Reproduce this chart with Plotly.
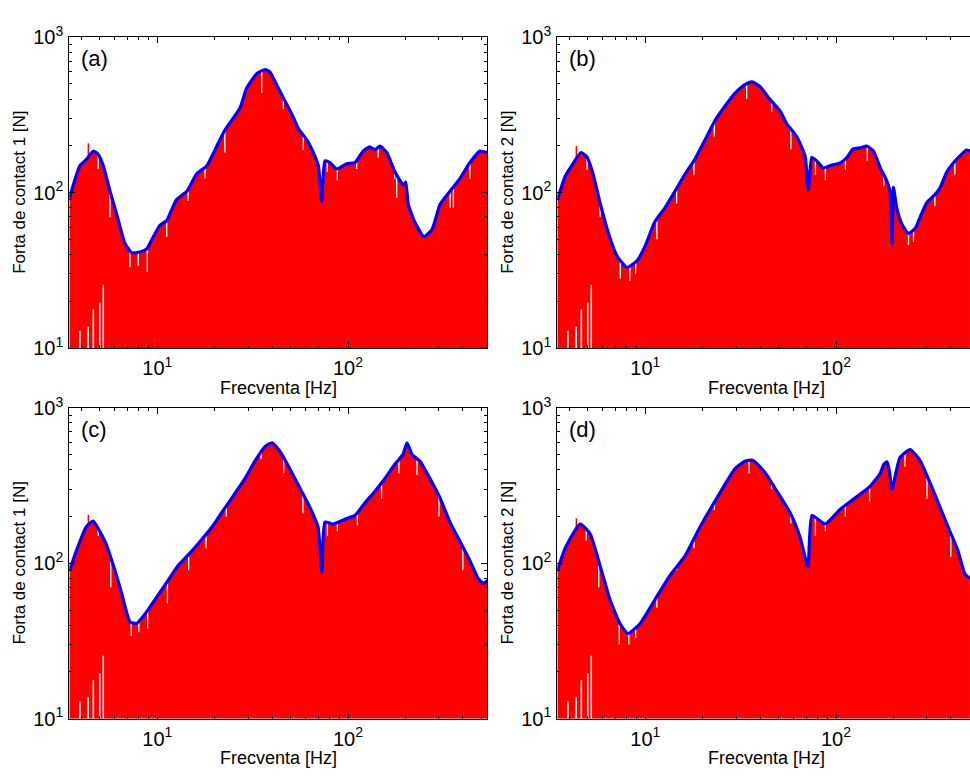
import plotly.graph_objects as go

# ---------------------------------------------------------------
# Contact-force spectra, four cases (a)-(d)
# envelope (blue) + raw spectrum (red, with local dips)
# ---------------------------------------------------------------

# (a) contact 1
F_A = [3.46, 3.93, 4.26, 4.62, 4.90, 5.21, 5.65, 6.12, 6.76, 7.34, 8.12, 8.80, 9.53,
       10.33, 11.2, 12.6, 14.3, 16.1, 18.2, 20.5, 22.6, 27.2, 29.4, 33.2, 36.7, 39.0,
       42.3, 45.8, 51.7, 54.9, 60.7, 65.8, 69.9, 72.8, 75.7, 80.4, 87.2, 98.4, 108.8,
       120, 130, 138.6, 147, 159.6, 176.4, 195, 200.7, 207, 224, 250, 276, 304, 336,
       386, 436, 492, 537]
V_A = [92, 149, 164, 185, 176, 149, 102, 72.8, 47.3, 41, 41.4, 43.4, 52,
       61.5, 66, 90, 102, 132, 149, 199, 252, 352, 470, 582, 620, 597,
       493, 407, 305, 258, 219, 181, 149, 88, 160, 156, 142, 153, 156,
       185, 197, 189, 199, 181, 135.5, 112, 117, 84, 64.6, 52, 58, 84, 99,
       123, 156, 185, 181]
NOTCH_F_A = [4.90, 5.65, 7.19, 7.95, 8.86, 11.2, 14.5, 17.8, 22.6, 35.3, 45.8, 58.3,
             77.9, 87.9, 111, 144, 176, 180, 343, 357, 436]
NOTCH_V_A = [142, 69.3, 33, 33.9, 30.8, 52, 88.5, 123, 181, 437, 345, 189,
             136, 120, 142, 168, 123, 92.5, 80, 80, 123]
SPIKE_F_A = [4.35]
SPIKE_V_A = [208]

# (b) contact 2
F_B = [3.46, 3.80, 4.17, 4.60, 4.95, 5.32, 5.79, 6.37, 7.11, 8.02, 9.05, 9.96, 11.2,
       12.7, 14.3, 16.2, 18.2, 20.6, 23.2, 26.2, 29.5, 33.3, 36.3, 40, 45, 50.9, 55.1,
       62.2, 68.8, 71.6, 74.6, 79.2, 85.8, 93, 105, 114, 123, 134, 145, 157, 170, 184,
       192, 197, 200, 208, 221, 239, 260, 276, 299, 330, 351, 381, 430, 484, 504]
V_B = [90, 127, 153, 181, 169, 132, 86, 56, 39, 33, 36.4, 45, 64.6,
       80, 102, 132, 164, 219, 291, 361, 435, 495, 516, 481, 398, 336, 278,
       229, 172, 104, 168, 160, 144, 149, 155, 168, 191, 194, 199, 185, 146, 120,
       102, 47, 108, 80, 63, 54.6, 58.6, 69.3, 86, 97, 107, 135.5, 164, 188, 185]
NOTCH_F_B = [4.95, 5.8, 7.4, 8.3, 8.9, 11.5, 14.6, 18.0, 23.0, 34.0, 46, 58,
             78, 88, 112, 146, 178, 240, 255, 330, 420]
NOTCH_V_B = [140, 70, 28, 27, 30, 50, 85, 130, 230, 400, 330, 190,
             130, 120, 140, 160, 110, 46, 48, 82, 130]
SPIKE_F_B = [4.35]
SPIKE_V_B = [200]

# (c) contact 1
F_C = [3.46, 3.84, 4.23, 4.60, 5.32, 6.0, 6.53, 7.19, 7.8, 8.62, 9.73, 10.97, 12.84,
       14.84, 16.75, 19.36, 21.8, 25.6, 28.8, 32.5, 36.7, 40.0, 44.0, 49.6, 56.0,
       63.2, 69.6, 73.0, 75.7, 83.4, 96.4, 108.8, 122.8, 138.6, 156.3, 176.4, 194.3,
       203.9, 216.6, 238.5, 269, 303.7, 342.6, 386.6, 436.3, 480.6, 510.6, 542]
V_C = [89.7, 128.5, 171, 186.6, 138, 89.7, 62.7, 42, 41, 47.1, 58.4, 72.4, 96.5,
       116.3, 138, 171.2, 212.3, 282.9, 351, 454.3, 563.5, 596.7, 524.4, 405, 304,
       228.2, 171.2, 87.3, 184, 178.8, 192, 203.4, 245.1, 291.2, 351, 435, 502.3,
       596.7, 502, 454, 351, 263.4, 184, 138, 103.6, 80, 74.5, 77.8]
NOTCH_F_C = [4.90, 5.7, 7.3, 8.0, 8.9, 11.3, 14.6, 18, 23, 35, 46, 58,
             78, 88, 112, 150, 185, 230, 300, 400]
NOTCH_V_C = [150, 70, 34, 36, 38, 55, 90, 125, 200, 470, 380, 210,
             150, 160, 175, 260, 380, 370, 200, 90]
SPIKE_F_C = [4.35]
SPIKE_V_C = [205]

# (d) contact 2
F_D = [3.46, 3.80, 4.55, 5.13, 5.79, 6.53, 7.37, 8.12, 9.38, 11.24, 13.48, 16.15,
       19.36, 24.6, 29.5, 33.3, 36.5, 40.0, 44.0, 47.9, 57.4, 64.7, 71.3, 74.8, 87.6,
       105, 125.8, 150.8, 170.1, 178.5, 185.1, 190, 196.7, 216.6, 244.3, 275.6,
       311.1, 351, 396, 436.3, 474.8, 504]
V_D = [89.7, 125, 178.8, 155, 96.5, 58.4, 40.8, 35.3, 40.8, 58.4, 83.6, 111.4,
       171, 283, 405, 454, 460, 417, 360, 304, 212, 148, 95, 203, 179,
       222, 263, 313, 377, 435, 450, 400, 300, 480, 540, 460,
       330, 230, 160, 120, 85, 80]
NOTCH_F_D = [4.9, 5.7, 7.3, 8.2, 8.9, 11.5, 14.6, 18, 23, 35, 46, 58,
             78, 88, 112, 150, 230, 300, 400]
NOTCH_V_D = [140, 70, 30, 30, 33, 52, 90, 125, 220, 380, 300, 180,
             150, 160, 200, 250, 420, 260, 110]
SPIKE_F_D = [4.35]
SPIKE_V_D = [195]

# white gaps at the low-frequency bottom of every spectrum
GAP_F = [3.93, 4.34, 4.62, 4.99, 5.21]
GAP_V = [12.9, 13.7, 17.7, 19.6, 25.4]

Y_TITLES = ["Forta de contact 1 [N]", "Forta de contact 2 [N]",
            "Forta de contact 1 [N]", "Forta de contact 2 [N]"]
X_TITLE = "Frecventa [Hz]"
PANEL_TAGS = ["(a)", "(b)", "(c)", "(d)"]
X_TICK_VALS = [10, 100]
X_TICK_TEXT = ["10<sup>1</sup>", "10<sup>2</sup>"]
Y_TICK_VALS = [10, 100, 1000]
Y_TICK_TEXT = ["10<sup>1</sup>", "10<sup>2</sup>", "10<sup>3</sup>"]
Y_MIN, Y_MAX = 10, 1000

panels = [
    (F_A, V_A, NOTCH_F_A, NOTCH_V_A, SPIKE_F_A, SPIKE_V_A),
    (F_B, V_B, NOTCH_F_B, NOTCH_V_B, SPIKE_F_B, SPIKE_V_B),
    (F_C, V_C, NOTCH_F_C, NOTCH_V_C, SPIKE_F_C, SPIKE_V_C),
    (F_D, V_D, NOTCH_F_D, NOTCH_V_D, SPIKE_F_D, SPIKE_V_D),
]

# ---- layout geometry (pixels) ----
W, H = 970, 778
LEFT = [69.3, 557.3, 69.3, 557.3]
RIGHT = [487.3, 970.0, 487.3, 970.0]
TOP = [24, 24, 407, 407]
BOTTOM = [345, 345, 728, 728]
AX_W = 418
DECADE_PX = 190.7
XLOG0 = 1 - (157.3 - 69.3) / DECADE_PX   # log10 of left edge frequency

RED = "#ff0000"
BLUE = "#0000ff"
FONT = "Arial, Liberation Sans, sans-serif"
TICK_FONT = dict(family=FONT, size=20, color="black")
LINE_SHAPE = dict(shape="spline", smoothing=0.5)

fig = go.Figure()


def segs(xs, lo, hi):
    """Vertical segments: xs paired with (lo, hi) lists -> x/y arrays with breaks."""
    xx, yy = [], []
    for x, a, b in zip(xs, lo, hi):
        xx += [x, x, None]
        yy += [a, b, None]
    return xx, yy


minor_x = [v * m for m in (1, 10, 100) for v in range(2, 10)]
minor_y = [v * m for m in (10, 100) for v in range(2, 10)]

for i, (f, v, nf, nv, sf, sv) in enumerate(panels):
    k = "" if i == 0 else str(i + 1)
    xa, ya = "x" + k, "y" + k

    # red spectrum area
    fig.add_trace(go.Scatter(x=f, y=v, mode="lines", fill="tozeroy",
                             fillcolor=RED, line=dict(color=RED, width=0.5, **LINE_SHAPE),
                             xaxis=xa, yaxis=ya, hoverinfo="skip"))
    # red spectral lines poking above the envelope
    sx, sy = segs(sf, [Y_MIN] * len(sf), sv)
    fig.add_trace(go.Scatter(x=sx, y=sy, mode="lines", line=dict(color=RED, width=1.5),
                             xaxis=xa, yaxis=ya, hoverinfo="skip"))
    # dips of the raw spectrum
    nx, ny = segs(nf, nv, [Y_MAX] * len(nf))
    fig.add_trace(go.Scatter(x=nx, y=ny, mode="lines", line=dict(color="white", width=1.3),
                             xaxis=xa, yaxis=ya, hoverinfo="skip"))
    gx, gy = segs(GAP_F, [Y_MIN] * len(GAP_F), GAP_V)
    fig.add_trace(go.Scatter(x=gx, y=gy, mode="lines", line=dict(color="white", width=1.5),
                             xaxis=xa, yaxis=ya, hoverinfo="skip"))
    # envelope
    fig.add_trace(go.Scatter(x=f, y=v, mode="lines",
                             line=dict(color=BLUE, width=3.2, **LINE_SHAPE),
                             xaxis=xa, yaxis=ya, hoverinfo="skip"))

    right_log = XLOG0 + (RIGHT[i] - LEFT[i]) / DECADE_PX
    full_panel = RIGHT[i] < W
    ax_common = dict(showline=True, linecolor="black", linewidth=1, ticks="inside",
                     ticklen=6, tickcolor="black", showgrid=False, zeroline=False)
    fig.layout["xaxis" + k] = dict(
        type="log", range=[XLOG0, right_log],
        domain=[LEFT[i] / W, RIGHT[i] / W],
        anchor=ya, mirror="ticks", tickmode="array",
        tickvals=X_TICK_VALS, ticktext=X_TICK_TEXT,
        minor=dict(ticks="inside", ticklen=3, tickcolor="black",
                   tickmode="array", tickvals=minor_x, showgrid=False),
        ticklabelstandoff=2, **ax_common)
    fig.layout["yaxis" + k] = dict(
        type="log", range=[1, 3],
        domain=[1 - BOTTOM[i] / H, 1 - TOP[i] / H],
        anchor=xa, mirror="ticks" if full_panel else False, tickmode="array",
        tickvals=Y_TICK_VALS, ticktext=Y_TICK_TEXT,
        minor=dict(ticks="inside", ticklen=3, tickcolor="black",
                   tickmode="array", tickvals=minor_y, showgrid=False),
        ticklabelstandoff=1, **ax_common)

    cx = LEFT[i] + AX_W / 2
    fig.add_annotation(text=X_TITLE, x=cx / W, y=1 - (BOTTOM[i] + 41) / H,
                       xref="paper", yref="paper", showarrow=False,
                       xanchor="center", yanchor="middle",
                       font=dict(family=FONT, size=18, color="black"))
    fig.add_annotation(text=Y_TITLES[i], x=(LEFT[i] - 50) / W,
                       y=1 - (TOP[i] + BOTTOM[i]) / 2 / H,
                       xref="paper", yref="paper", showarrow=False, textangle=-90,
                       xanchor="center", yanchor="middle",
                       font=dict(family=FONT, size=17, color="black"))
    fig.add_annotation(text=PANEL_TAGS[i], x=(LEFT[i] + 10) / W, y=1 - (TOP[i] + 22) / H,
                       xref="paper", yref="paper", showarrow=False,
                       xanchor="left", yanchor="middle",
                       font=dict(family=FONT, size=22, color="black"))

fig.update_layout(width=W, height=H, margin=dict(l=0, r=0, t=0, b=0),
                  font=TICK_FONT,
                  paper_bgcolor="white", plot_bgcolor="white", showlegend=False)
fig.update_xaxes(tickfont=TICK_FONT)
fig.update_yaxes(tickfont=TICK_FONT)

fig.write_html("out.html")
